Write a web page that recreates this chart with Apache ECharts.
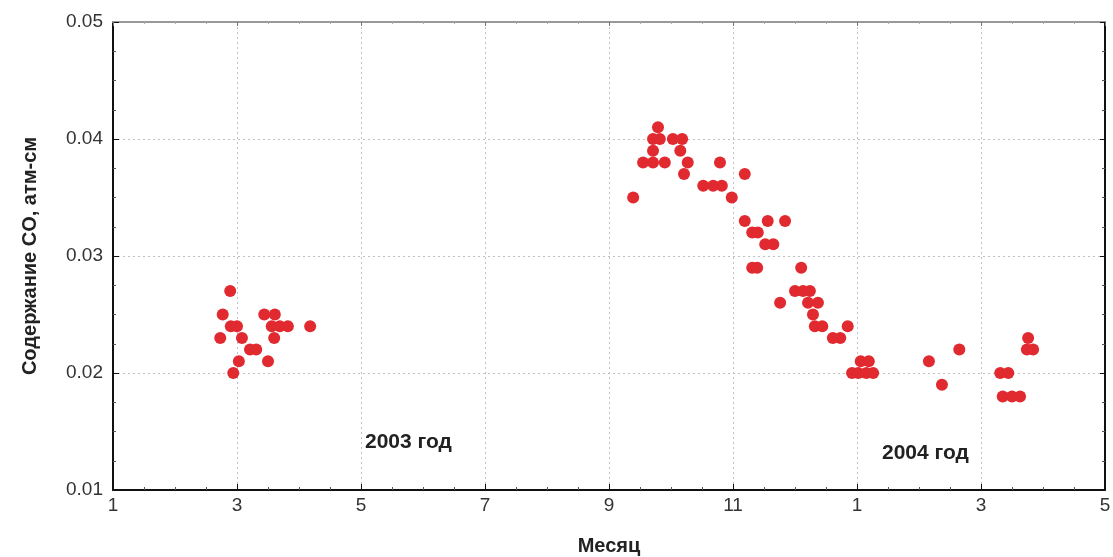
<!DOCTYPE html>
<html><head><meta charset="utf-8">
<script src="https://cdn.jsdelivr.net/npm/echarts@6/dist/echarts.min.js"></script>
<style>html,body{margin:0;padding:0;background:#fff}#c{width:1113px;height:557px}</style>
</head><body><div id="c"></div>
<script>
// x: month number continuing into 2004 (13 = Jan 2004)
var xTicks = [1, 3, 5, 7, 9, 11, 13, 15, 17];
var tickLabels = ['1', '3', '5', '7', '9', '11', '1', '3', '5'];
var months2003spring = [2.89, 2.77, 2.90, 3.00, 2.73, 3.08, 3.21, 3.31, 3.03, 2.94, 3.44, 3.61, 3.56, 3.69, 3.82, 3.60, 3.50, 4.18];
var co2003spring     = [0.027, 0.025, 0.024, 0.024, 0.023, 0.023, 0.022, 0.022, 0.021, 0.020, 0.025, 0.025, 0.024, 0.024, 0.024, 0.023, 0.021, 0.024];
var monthsAutumn = [9.79, 9.71, 9.82, 10.03, 10.18, 9.71, 10.15, 9.55, 9.71, 9.90, 10.27, 10.79, 10.21, 11.19, 10.52, 10.68, 10.82, 9.39, 10.98,
  11.19, 11.56, 11.84, 11.31, 11.40, 11.52, 11.65, 11.31, 11.39, 12.10, 12.00, 12.13, 12.24, 11.76, 12.21, 12.37, 12.29, 12.32, 12.44, 12.85,
  12.61, 12.73, 13.06, 13.19, 12.92, 13.02, 13.15, 13.26];
var coAutumn = [0.041, 0.040, 0.040, 0.040, 0.040, 0.039, 0.039, 0.038, 0.038, 0.038, 0.038, 0.038, 0.037, 0.037, 0.036, 0.036, 0.036, 0.035, 0.035,
  0.033, 0.033, 0.033, 0.032, 0.032, 0.031, 0.031, 0.029, 0.029, 0.029, 0.027, 0.027, 0.027, 0.026, 0.026, 0.026, 0.025, 0.024, 0.024, 0.024,
  0.023, 0.023, 0.021, 0.021, 0.020, 0.020, 0.020, 0.020];
var months2004 = [14.16, 14.37, 14.65, 15.31, 15.44, 15.35, 15.50, 15.63, 15.76, 15.74, 15.84];
var co2004     = [0.021, 0.019, 0.022, 0.020, 0.020, 0.018, 0.018, 0.018, 0.023, 0.022, 0.022];

function pairs(xs, ys) { return xs.map(function (x, i) { return [x, ys[i]]; }); }
var allData = pairs(months2003spring, co2003spring).concat(pairs(monthsAutumn, coAutumn)).concat(pairs(months2004, co2004));

var chart = echarts.init(document.getElementById('c'));
var font = 'Liberation Sans, Arial, sans-serif';
var gridLine = { show: true, lineStyle: { color: '#c0c0c0', type: [2, 3], width: 1 } };
chart.setOption({
  animation: false,
  backgroundColor: '#fff',
  grid: { left: 113, right: 8, top: 22, bottom: 67, outerBoundsMode: 'none', containLabel: false },
  xAxis: [{
    type: 'value', min: 1, max: 17, interval: 2,
    name: 'Месяц', nameLocation: 'middle', nameGap: 46,
    nameTextStyle: { fontFamily: font, fontWeight: 'bold', fontSize: 20, color: '#222' },
    axisLine: { show: true, onZero: false, lineStyle: { color: '#111', width: 2 } },
    axisTick: { show: true, inside: true, length: 6, lineStyle: { color: '#111' } },
    minorTick: { show: true, splitNumber: 4, length: 3, lineStyle: { color: '#555' } },
    axisLabel: { fontFamily: font, fontSize: 19, color: '#333', margin: 6,
      formatter: function (v) { var i = xTicks.indexOf(v); return i >= 0 ? tickLabels[i] : ''; } },
    splitLine: gridLine
  }, {
    type: 'value', min: 1, max: 17, interval: 2, position: 'top',
    axisLine: { show: true, onZero: false, lineStyle: { color: '#999', width: 2 } },
    axisTick: { show: true, inside: true, length: 4, lineStyle: { color: '#777' } },
    minorTick: { show: true, splitNumber: 4, length: 2, lineStyle: { color: '#aaa' } },
    axisLabel: { show: false }, splitLine: { show: false }
  }],
  yAxis: [{
    type: 'value', min: 0.01, max: 0.05, interval: 0.01,
    name: 'Содержание CO, атм-см', nameLocation: 'middle', nameGap: 73, nameRotate: 90,
    nameTextStyle: { fontFamily: font, fontWeight: 'bold', fontSize: 20, color: '#222' },
    axisLine: { show: true, onZero: false, lineStyle: { color: '#111', width: 2 } },
    axisTick: { show: true, inside: true, length: 6, lineStyle: { color: '#111' } },
    minorTick: { show: true, splitNumber: 4, length: 3, lineStyle: { color: '#555' } },
    axisLabel: { fontFamily: font, fontSize: 19, color: '#333', margin: 10,
      formatter: function (v) { return v.toFixed(2); } },
    splitLine: gridLine
  }, {
    type: 'value', min: 0.01, max: 0.05, interval: 0.01, position: 'right',
    axisLine: { show: true, onZero: false, lineStyle: { color: '#111', width: 2 } },
    axisTick: { show: true, inside: true, length: 5, lineStyle: { color: '#111' } },
    minorTick: { show: true, splitNumber: 4, length: 3, lineStyle: { color: '#555' } },
    axisLabel: { show: false }, splitLine: { show: false }
  }],
  series: [{
    type: 'scatter', data: allData, symbolSize: 12,
    itemStyle: { color: '#e02a30', opacity: 1 }
  }],
  graphic: [
    { type: 'text', left: 365, top: 432, style: { text: '2003 год', font: 'bold 21px ' + font, fill: '#222' } },
    { type: 'text', left: 882, top: 443, style: { text: '2004 год', font: 'bold 21px ' + font, fill: '#222' } }
  ]
});
</script></body></html>
